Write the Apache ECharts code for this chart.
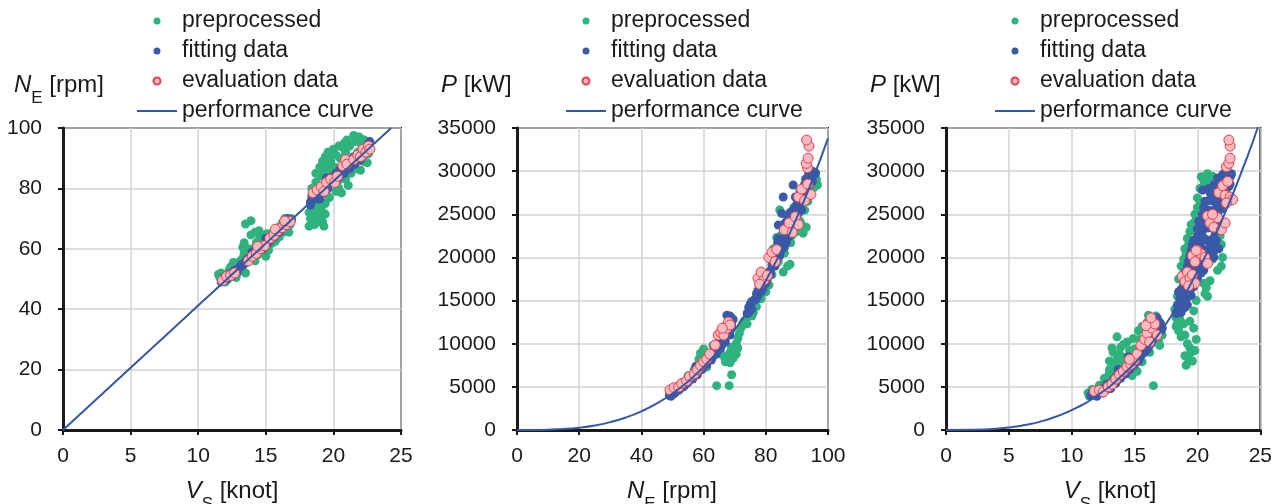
<!DOCTYPE html>
<html><head><meta charset="utf-8">
<script src="https://cdn.jsdelivr.net/npm/echarts@6/dist/echarts.min.js"></script>
<style>html,body{margin:0;padding:0;background:#fff}#c{width:1275px;height:504px}</style>
</head><body><div id="c"></div>
<script>
// ---------- axis ranges [min, max, interval] ----------
const axisV = [0, 25, 5];
const axisN = [0, 100, 20];
const axisP = [0, 35000, 5000];
const legendNames = ['preprocessed', 'fitting data', 'evaluation data', 'performance curve'];

// ---------- chart 1 : Vs [knot] vs NE [rpm] ----------
const c1Pre = [[11.6,50.5],[11.7,52],[11.8,49.5],[12.0,51.5],[12.2,50],[12.3,53],[12.5,51],[12.7,53.5],[12.9,52],[13.0,55],[13.2,54],[13.3,57],[13.3,60.5],[13.5,68.2],[13.9,69.3],[13.9,64.6],[13.6,55.5],[13.8,58],[14.0,57],[14.1,60],[14.3,62],[14.4,58],[14.6,61],[14.7,63.5],[14.8,59.5],[15.0,62],[15.1,65],[15.3,61.5],[15.4,64],[15.6,66],[15.7,62.5],[15.9,67],[16.0,64],[16.2,68.5],[16.3,65.5],[16.5,69.5],[16.6,67],[16.8,68],[14.5,66],[15.0,57.5],[13.5,52],[12.6,55.5],
  [12.0,49],[12.4,54],[12.8,50.5],[13.1,56],[13.4,58.5],[13.7,60],[14.2,56],[14.5,63],[14.9,64.5],[15.2,59.5],[15.5,62],[15.8,63.5],[16.1,66],[16.4,70],[16.9,70],[16.7,65.5],[13.4,62],[14.2,65.5],[11.5,51.5],
  [18.2,67.5],[18.3,70],[18.4,72.5],[18.6,68],[18.8,71],[18.9,74],[19.0,69],[19.2,72],[19.3,67.5],[19.4,75],[18.5,77],[18.4,80],[18.7,82],[18.9,79],[19.1,84],[19.3,86],[19.5,81],[19.6,88],[19.8,84],[19.9,91],[20.0,93],[20.1,87],[20.3,82],[20.5,90],[20.6,78.5],[20.7,86],[20.9,92],[21.0,88.5],[21.2,94],[21.4,90],[21.6,95.5],[21.8,92],[21.9,97],[22.1,94],[22.3,96],[22.5,93],[22.6,95],[21.3,85],[20.2,79],[19.7,77],
  [18.3,75],[18.6,74],[18.2,72],[18.9,76],[19.1,73.5],[18.7,85],[19.0,87],[19.2,89],[19.4,90.5],[19.6,92],[19.8,89],[20.2,91],[20.4,94],[20.8,95],[21.0,96],[21.5,97.5],[22.0,96.5],[20.4,80],[20.9,83],[21.6,86.5],[22.2,89],[22.6,91.5],[21.1,81],[20.7,93.5],[19.5,78],[18.5,78.5],[19.9,86],[18.9,70.5],[19.2,69],[18.5,69.5],[18.4,73.5],[22.0,86],[22.5,88.5],[19.4,71.5],[18.7,72]];
const c1Fit = [[11.7,49],[11.9,50.5],[12.1,49.8],[12.3,51.5],[12.5,51],[12.7,52.8],[12.9,52.5],[13.1,54],[13.3,54.5],[13.5,55.8],[13.7,56],[13.9,57.5],[14.1,57.8],[14.3,59.2],[14.5,59.5],[14.7,60.8],[14.9,61],[15.1,62.5],[15.3,62.8],[15.5,64],[15.7,64.5],[15.9,65.5],[16.1,66.5],[16.3,67],[16.5,68],[16.7,68.5],[16.9,69.5],[16.6,70],[15.0,63.5],[14.0,59],
  [11.8,49.8],[12.0,50.3],[12.2,51],[12.4,51.8],[12.6,52],[12.8,53],[13.0,53.5],[13.2,54.8],[13.4,55],[13.6,56.5],[13.8,57],[14.2,58.5],[14.4,59],[14.6,60.5],[14.8,60],[15.0,61.5],[15.2,62],[15.4,63.5],[15.6,63.8],[15.8,65],[16.0,65.5],[16.2,66.5],[16.4,67.5],[16.8,69.5],
  [18.3,75.5],[18.4,77.5],[18.6,76.5],[18.8,78],[19.0,78.5],[19.2,80],[19.4,80],[19.6,81.5],[19.8,82],[20.0,83],[20.2,83.5],[20.4,84.5],[20.6,85],[20.8,86],[21.0,87],[21.2,87.5],[21.4,88.5],[21.6,89],[21.8,90],[22.0,91],[22.2,91.5],[22.4,93],[22.6,94],[22.7,95.5],[19.5,83.5],[20.5,86.5],[21.5,90.5],[19.0,76.5],
  [18.4,76],[18.6,78],[18.8,77],[19.0,80],[19.2,78.5],[19.4,81.5],[19.6,80],[19.8,83.5],[20.0,82],[20.2,85],[20.4,83.5],[20.6,86.5],[20.8,85],[21.0,88.5],[21.2,86.5],[21.4,89.5],[21.6,88],[21.8,91],[22.0,89.5],[22.2,92.5],[22.4,91.5],[22.6,95],[22.5,93.5],[18.3,74.5]];
const c1Eval = [[11.8,49.5],[12.1,50.8],[12.4,51.2],[12.7,52],[13.7,56],[14.0,57.5],[14.3,58.5],[14.6,60],[14.9,61],[14.4,60.8],[15.3,63.5],[15.6,64.5],[15.9,66],[16.2,67],[16.5,68],[16.8,69],[15.7,66.5],[16.4,69.2],
  [18.5,78.5],[18.8,79.5],[19.1,80.5],[19.3,79],[19.5,82],[19.8,83],[20.1,82],[20.3,84],[20.7,87.5],[20.9,89.5],[21.0,88],[21.5,89.5],[21.8,91],[22.0,90.5],[22.2,93],[22.4,92],[22.6,94],[22.7,93]];
const c1Curve = [[0,0],[5,20.6],[10,41.2],[15,61.8],[20,82.4],[24.27,100]];

// ---------- chart 2 : NE [rpm] vs P [kW] ----------
const c2Pre = [[49,4300],[50,4500],[52,4900],[54,5200],[56,6200],[58,6900],[60,7900],[61,7300],[62,8600],[64,9300],[65,10500],[63,9800],
  [64.2,5140],[68.2,5140],[69,6400],[66,8700],[67,8200],[68,8500],[68.5,9000],[69,9600],[70,9300],[70.5,10000],[71,10600],[71.5,11200],[72,11800],[72.5,12300],[73,12600],[74,12300],[74.5,13200],[69.5,8300],[70.5,8800],[71,9500],[67,7900],[68.5,7800],
  [76,14500],[79,16500],[82,18000],[84,19500],[86,20500],[87,21800],[88.5,22600],[90,24000],[92,25500],[93.5,26500],[95,28500],[96,29300],[86,23500],[83,21000],[89,25800],[93,23500],[92,22800],[91.5,23800],[84.5,25500],
  [82.5,21000],[83.5,22300],[85,22600],[85.6,18300],[87,19000],[87.8,19200],[95.5,28100],[96.3,29000],[96.6,28400],[77,14300],[76,13600],[75.5,13200],[78.5,15200],[80,16000],[81,16800],[88,21700],[90,23000],[91,24200],[92.5,25500],[94,27200],[59,8900],[60,9400],[58.5,8200],[55,6300],[57,7000],[53,5400],[51,4800]];
const c2Fit = [[49,4000],[49.5,4400],[50.5,4200],[51,4700],[52,4600],[52.5,5100],[53.5,5000],[54,5600],[55,5500],[55.5,6100],[56.5,5900],[57,6600],[58,6400],[58.5,7100],[59.5,7000],[60,7700],[61,7600],[61.5,8300],[62.5,8100],[63,8900],[64,8800],[64.5,9600],[65.5,9500],[66,10300],[67,10200],[67.5,11200],[68.5,11000],[69,12000],[69.5,12800],[68.5,13200],[67.5,12300],[63.5,9900],[57.5,7400],
  [49.5,3900],[50,4400],[51,4400],[51.5,4900],[52.5,4800],[53,5300],[54,5200],[54.5,5500],[55,5800],[56,6100],[56.5,6300],[57.5,6800],[58,6800],[59,7100],[59.5,7500],[60.5,7700],[61,8000],[62,8200],[62.5,8700],[63,8500],[63.5,9300],[64.5,9200],[65,10000],[66,9900],[66.5,10800],[67,11000],[68,11600],[68.5,12500],[69,13000],[68,12800],[67.5,13300],[69,12400],
  [74,13500],[74.5,14200],[75.5,14000],[76,15000],[77,15200],[77.5,16200],[78.5,16000],[79,17200],[80,17000],[80.5,18100],[81.5,18300],[82,19200],[83,19000],[83.5,20300],[84.5,20500],[85,21600],[86,21200],[86.5,22600],[85.6,27000],[87,24500],[87.5,23300],[88.5,24200],[89,25600],[88.8,28400],[90,25000],[90.5,26600],[91,27800],[92,27000],[92.5,28500],[93.5,28000],[94,29200],[95,29500],[95.8,29700],[91.5,25500],[84,22200],[81,20000],
  [74.5,13600],[75,14600],[75.5,14900],[76.5,15100],[77,15800],[77.5,15600],[78,16500],[78.5,16700],[79,16300],[79.5,17100],[80,17700],[80.5,17500],[81,18300],[81.5,18000],[82,18900],[82.5,19300],[83,19800],[83.5,19600],[84,20500],[84.5,20200],[85,20900],[85.5,21800],[86,22000],[86.5,21700],[87,22700],[87.5,22400],[88,23500],[88.5,23500],[89,24300],[89.5,24800],[90,25300],[90.5,25100],[91,26100],[91.5,26400],[92,26700],[92.5,27400],[93,27800],[93.5,27300],[94,28600],[94.5,29000],[95,28800],[95.5,29600],[96,29800],[95,30000],[94.5,29800],[93.8,29700],[92.8,29100],[91.8,27000],[90,26200],[89.5,27000],[87.8,25200],[86.2,24000],[83.8,21700],[82.5,20500],[85.1,25100],[84,23750]];
const c2Eval = [[49.2,4640],[50.5,4900],[52,5000],[53,5400],[54.5,5700],[55.5,6200],[57,6500],[58,7000],[59,7500],[60,7900],[61,8200],[62,8800],[63.7,9850],[64.7,11000],[65.5,11300],[66.5,11000],[67.5,11800],[68,12500],[68.5,12170],[66,11800],
  [77.5,17600],[78.5,18300],[79.5,17400],[80.5,17900],[78,16900],[81,20000],[82,20600],[83,19500],[83.5,20900],[86,23200],[87.5,24000],[88.5,22900],[89.5,24700],[90.5,23800],[90.5,27000],[91.5,27900],[92.5,26600],[93.5,28500],[94.5,27300],[93.4,30400],[93.0,30900],[93.6,31500],[93.9,32900],[93.1,33600]];
const c2Curve = [[0,0],[5,4],[10,34],[15,114],[20,270],[25,528],[30,913],[35,1449],[40,2163],[45,3080],[50,4225],[55,5624],[60,7301],[65,9282],[70,11593],[75,14260],[80,17306],[85,20757],[90,24640],[95,28980],[100,33800]];

// ---------- chart 3 : Vs [knot] vs P [kW] ----------
const c3Pre = [[11.3,4300],[11.6,4700],[12.0,4600],[12.5,5000],[12.8,5800],[13.2,6400],[13.0,7000],[13.5,7800],[13.6,10800],[13.2,9500],[13.8,8800],[14.1,9900],[14.4,10200],[14.0,7600],[14.6,8000],[15.0,9400],[15.4,10500],[15.8,11800],[16.0,12500],[16.4,12900],[16.9,10400],[17.0,9800],[16.5,5140],[15.2,6800],[14.8,6300],
  [12.2,5200],[12.6,6000],[13.0,6600],[13.4,7200],[13.6,8200],[13.9,9600],[14.2,8400],[14.6,9200],[14.9,10600],[15.3,11500],[15.6,12000],[16.1,13300],[16.7,13200],[17.1,12300],[17.2,11000],[16.2,9000],[15.6,7900],[11.4,3900],[13.3,9000],[13.0,8000],
  [18.3,12000],[18.5,11500],[18.7,10800],[18.6,12800],[18.9,12300],[19.0,11000],[19.2,10000],[19.4,9500],[19.0,8600],[19.3,8200],[19.6,8000],[19.5,9000],[19.8,9200],[19.9,10500],[19.7,11800],[19.4,12600],[19.1,7500],
  [18.5,17500],[18.7,19000],[19.0,21000],[19.2,22200],[19.5,23800],[19.8,25000],[20.0,26900],[20.2,28000],[20.3,29360],[20.6,28600],[20.9,29200],[21.1,28200],[21.5,29100],[21.8,22500],[22.0,24000],[21.9,19000],[22.3,27500],[22.6,26500],[20.5,17000],[20.8,15500],[21.2,19800],[20.6,15800],
  [18.6,16000],[18.4,15500],[18.8,18000],[18.9,19800],[19.1,20500],[19.3,21500],[19.4,23000],[19.7,24000],[19.9,24700],[20.0,25800],[20.2,26500],[20.5,28900],[20.8,29700],[21.2,29400],[22.2,29900],[22.7,29600],[21.9,21500],[22.0,20000],[21.6,18500],[21.0,17300],[20.7,16500],[19.7,13800],[19.9,15000],[18.3,13000],[18.2,14000],[18.4,12300]];
const c3Fit = [[11.5,4000],[11.8,4200],[12.0,3900],[12.2,4500],[12.5,4300],[12.6,4900],[12.9,5200],[13.1,4800],[13.3,5700],[13.5,5400],[13.6,6200],[13.9,6000],[14.0,6800],[14.3,6500],[14.4,7400],[14.7,7200],[14.8,8000],[15.0,7600],[15.2,8600],[15.4,8300],[15.5,9300],[15.8,9000],[15.9,10000],[16.1,9600],[16.2,10800],[16.4,10300],[16.5,11500],[16.7,11000],[16.8,12200],[16.6,12800],[16.9,12000],[17.1,11500],[16.3,12300],[14.5,8500],[13.7,7000],
  [11.6,4300],[11.9,4000],[12.1,4300],[12.4,4700],[12.7,4600],[12.8,5300],[13.0,5000],[13.2,5500],[13.4,6000],[13.6,5700],[13.8,6500],[14.1,6400],[14.2,7000],[14.6,7000],[14.6,7700],[14.9,7500],[15.1,8200],[15.3,8000],[15.4,9000],[15.6,8800],[15.7,9700],[16.0,9300],[16.0,10500],[16.3,10000],[16.3,11200],[16.6,10800],[16.7,11800],[16.9,11400],[17.0,12500],[16.5,12500],[16.8,13000],[17.2,11800],
  [18.3,13500],[18.4,14500],[18.6,15200],[18.5,16000],[18.8,14800],[18.9,16800],[19.0,15800],[19.1,17800],[19.3,16500],[19.2,19000],[19.5,18000],[19.4,20200],[19.7,19500],[19.6,21500],[19.9,21000],[20.0,22500],[20.2,20500],[20.3,23500],[20.5,22000],[20.4,25000],[20.7,24000],[20.6,26500],[20.9,25500],[21.0,27500],[21.2,23500],[21.3,26500],[21.5,28500],[21.6,25000],[21.8,27000],[22.0,29000],[22.2,28000],[22.4,29500],[22.6,28500],[22.7,29700],[21.0,21500],[20.8,20000],[19.8,17500],[20.1,24200],[20.4,27800],[21.4,23000],[21.7,21000],[21.3,20000],[20.5,18500],[21.5,22000],
  [18.4,13800],[18.7,13600],[19.0,14200],[19.2,14500],[18.6,14600],[18.9,15500],[19.2,15400],[19.5,15600],[18.7,16300],[19.0,16500],[19.4,16200],[19.7,16600],[18.9,17300],[19.3,17500],[19.6,17200],[20.0,17600],[20.3,18200],[19.0,18300],[19.4,18700],[19.8,18400],[20.1,18800],[19.3,19600],[19.7,20000],[20.1,19700],[20.5,19400],[20.9,19700],[21.3,20700],[19.5,20800],[19.9,20300],[20.3,21200],[20.6,20800],[21.0,20800],[21.4,21300],[19.7,22000],[20.1,21700],[20.5,22300],[20.9,22000],[21.3,22300],[20.0,23300],[20.4,23100],[20.8,23400],[21.1,24200],[21.5,23800],[21.8,24300],[20.3,24300],[20.7,25100],[21.1,25000],[21.5,25800],[21.9,25600],[22.1,26300],[20.5,25800],[20.9,26600],[21.3,27000],[21.7,26400],[22.1,27300],[22.4,26900],[20.9,28000],[21.3,28400],[21.7,28200],[22.1,28700],[22.5,28200],[21.6,29200],[22.0,29600],[22.3,29800],[22.6,29300]];
const c3Eval = [[11.8,4500],[12.2,4600],[12.5,4400],[12.9,5000],[13.2,5300],[13.5,5900],[13.8,6400],[14.1,6800],[14.4,7300],[14.7,7600],[15.0,8100],[15.2,8800],[14.6,8200],[15.5,9800],[15.8,10500],[16.0,11200],[16.2,10200],[16.4,11800],[16.6,12300],[16.8,11000],[15.9,12100],[16.3,13000],
  [18.8,17800],[19.0,17200],[19.2,18300],[19.4,17600],[19.6,18000],[19.8,17000],[19.3,16700],
  [19.6,20200],[19.8,19500],[20.0,20800],[20.3,20400],[20.6,20000],[20.8,19300],[19.9,20800],
  [20.8,24800],[21.0,24000],[21.3,23500],[21.6,24600],[21.9,23200],[22.2,24000],[21.2,25000],
  [21.7,27500],[22.0,28300],[22.2,27200],[22.4,28800],[22.6,27000],[22.8,26700],[22.3,26300],
  [22.3,30500],[22.5,30900],[22.6,31500],[22.6,32900],[22.5,33600]];
const c3Curve = [[0,0],[2,18],[4,147],[6,497],[8,1178],[10,2300],[12,3974],[14,6311],[16,9421],[18,13414],[20,18400],[22,24490],[24,31795],[24.8,35080]];

// ---------- styling ----------
const FONT = 'Liberation Sans, Arial, sans-serif';
const GREEN = '#2fb27e', BLUE = '#3a5aa8', RED = '#e5404f', PINK = '#f8b9bf', LINE = '#3557a8';
const grids = [
  {left: 63, top: 128, width: 338, height: 302},
  {left: 517, top: 128, width: 311, height: 302},
  {left: 946, top: 128, width: 315, height: 302}
];
function axisBase(r, isY) {
  return {
    type: 'value', min: r[0], max: r[1], interval: r[2],
    axisLine: {show: true, onZero: false, lineStyle: {color: '#1a1a1a', width: 3}},
    axisTick: {show: true, inside: false, length: 5, lineStyle: {color: '#1a1a1a', width: 2}},
    splitLine: {show: true, lineStyle: {color: '#d2d2d2', width: 1.5}},
    axisLabel: {color: '#1a1a1a', fontSize: 21, fontFamily: FONT, margin: isY ? 21 : 16, formatter: v => String(v)}
  };
}
const pairs = [[axisV, axisN], [axisN, axisP], [axisV, axisP]];
const data = [[c1Pre, c1Fit, c1Eval, c1Curve], [c2Pre, c2Fit, c2Eval, c2Curve], [c3Pre, c3Fit, c3Eval, c3Curve]];
const xAxis = [], yAxis = [], series = [];
pairs.forEach((p, i) => {
  const xa = axisBase(p[0], false); xa.gridIndex = i; xAxis.push(xa);
  const ya = axisBase(p[1], true); ya.gridIndex = i; yAxis.push(ya);
  const d = data[i];
  series.push({name: legendNames[0], type: 'scatter', xAxisIndex: i, yAxisIndex: i, data: d[0], symbolSize: 9, itemStyle: {color: GREEN, opacity: 1}, z: 2, silent: true});
  series.push({name: legendNames[1], type: 'scatter', xAxisIndex: i, yAxisIndex: i, data: d[1], symbolSize: 9, itemStyle: {color: BLUE, opacity: 1}, z: 3, silent: true});
  series.push({name: legendNames[2], type: 'scatter', xAxisIndex: i, yAxisIndex: i, data: d[2], symbolSize: 10, itemStyle: {color: PINK, borderColor: RED, borderWidth: 1, opacity: 1}, z: 4, silent: true});
  series.push({name: legendNames[3], type: 'line', xAxisIndex: i, yAxisIndex: i, data: d[3], smooth: true, symbol: 'none', lineStyle: {color: LINE, width: 2}, itemStyle: {color: LINE}, z: 5, silent: true, clip: true});
});
const legendLefts = [137, 566, 995];
const legend = legendLefts.map(l => ({
  left: l, top: 9, padding: 0, orient: 'vertical', itemWidth: 40, itemHeight: 7, itemGap: 6,
  symbolKeepAspect: true, selectedMode: false,
  textStyle: {fontSize: 23, fontFamily: FONT, color: '#1a1a1a', lineHeight: 24},
  data: [legendNames[0], legendNames[1], legendNames[2], {name: legendNames[3], icon: 'path://M0,0L40,0L40,2L0,2Z'}]
}));
function richName(main, sub, unit) {
  return {
    text: '{i|' + main + '}' + '{s|' + sub + '}' + '{u| ' + unit + '}',
    rich: {
      i: {fontSize: 24, fontFamily: FONT, fontStyle: 'italic', fill: '#1a1a1a'},
      s: {fontSize: 17, fontFamily: FONT, fill: '#1a1a1a', padding: [26, 0, 0, 0]},
      u: {fontSize: 24, fontFamily: FONT, fill: '#1a1a1a'}
    }
  };
}
function rich1(main, unit) {
  return {
    text: '{i|' + main + '}' + '{u| ' + unit + '}',
    rich: {
      i: {fontSize: 24, fontFamily: FONT, fontStyle: 'italic', fill: '#1a1a1a'},
      u: {fontSize: 24, fontFamily: FONT, fill: '#1a1a1a'}
    }
  };
}
function label(x, y, align, s) {
  return {type: 'text', x: x, y: y, silent: true, style: Object.assign({align: align, verticalAlign: 'middle', fontSize: 24, fontFamily: FONT, fill: '#1a1a1a'}, s)};
}
const graphic = [
  label(14, 85, 'left', richName('N', 'E', '[rpm]')),
  label(441, 85, 'left', rich1('P', '[kW]')),
  label(870, 85, 'left', rich1('P', '[kW]')),
  label(232, 491, 'center', richName('V', 'S', '[knot]')),
  label(672, 491, 'center', richName('N', 'E', '[rpm]')),
  label(1110, 491, 'center', richName('V', 'S', '[knot]'))
];
const chart = echarts.init(document.getElementById('c'), null, {renderer: 'canvas'});
chart.setOption({
  animation: false,
  backgroundColor: '#fff',
  grid: grids.map(g => Object.assign({show: true, borderColor: '#1a1a1a', borderWidth: 2, backgroundColor: 'transparent'}, g)),
  xAxis: xAxis, yAxis: yAxis, series: series, legend: legend, graphic: graphic
});
</script></body></html>
